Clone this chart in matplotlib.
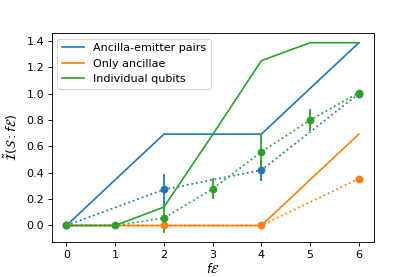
import matplotlib
matplotlib.use("Agg")
import matplotlib.pyplot as plt
import numpy as np

x = [0, 1, 2, 3, 4, 5, 6]
pairs_theory = [0, 0.347, 0.693, 0.693, 0.693, 1.040, 1.386]
ancillae_theory = [0, 0, 0, 0, 0, 0.347, 0.693]
qubits_theory = [0, 0, 0.14, 0.69, 1.25, 1.386, 1.386]

pairs_x = [0, 2, 4, 6]
pairs_y = [0, 0.273, 0.42, 1.0]
pairs_err = [0, 0.12, 0.08, 0.0]

anc_x = [0, 2, 4, 6]
anc_y = [0, 0.0, 0.0, 0.355]
anc_err = [0, 0.0, 0.0, 0.0]

qub_x = [0, 1, 2, 3, 4, 5, 6]
qub_y = [0, 0, 0.056, 0.278, 0.558, 0.80, 1.007]
qub_err = [0, 0, 0.11, 0.08, 0.135, 0.08, 0.0]

dpi = 80
fig, ax = plt.subplots(figsize=(415 / dpi, 277 / dpi), dpi=dpi)
fig.subplots_adjust(left=0.125, right=0.9, top=0.88, bottom=0.126)
c1, c2, c3 = "#1f77b4", "#ff7f0e", "#2ca02c"
ax.plot(x, pairs_theory, color=c1, label="Ancilla-emitter pairs")
ax.plot(x, ancillae_theory, color=c2, label="Only ancillae")
ax.plot(x, qubits_theory, color=c3, label="Individual qubits")
ax.errorbar(pairs_x, pairs_y, yerr=pairs_err, color=c1, fmt="o", ls=":", lw=1.6)
ax.errorbar(anc_x, anc_y, yerr=anc_err, color=c2, fmt="o", ls=":", lw=1.6)
ax.errorbar(qub_x, qub_y, yerr=qub_err, color=c3, fmt="o", ls=":", lw=1.6)
ax.set_xlabel(r"$f\mathcal{E}$", fontsize=11, labelpad=2)
ax.set_ylabel(r"$\tilde{\mathcal{I}}(\mathcal{S}: f\mathcal{E})$", fontsize=11.5, labelpad=6)
ax.legend(loc="upper left")
fig.savefig("out.png", dpi=dpi)
